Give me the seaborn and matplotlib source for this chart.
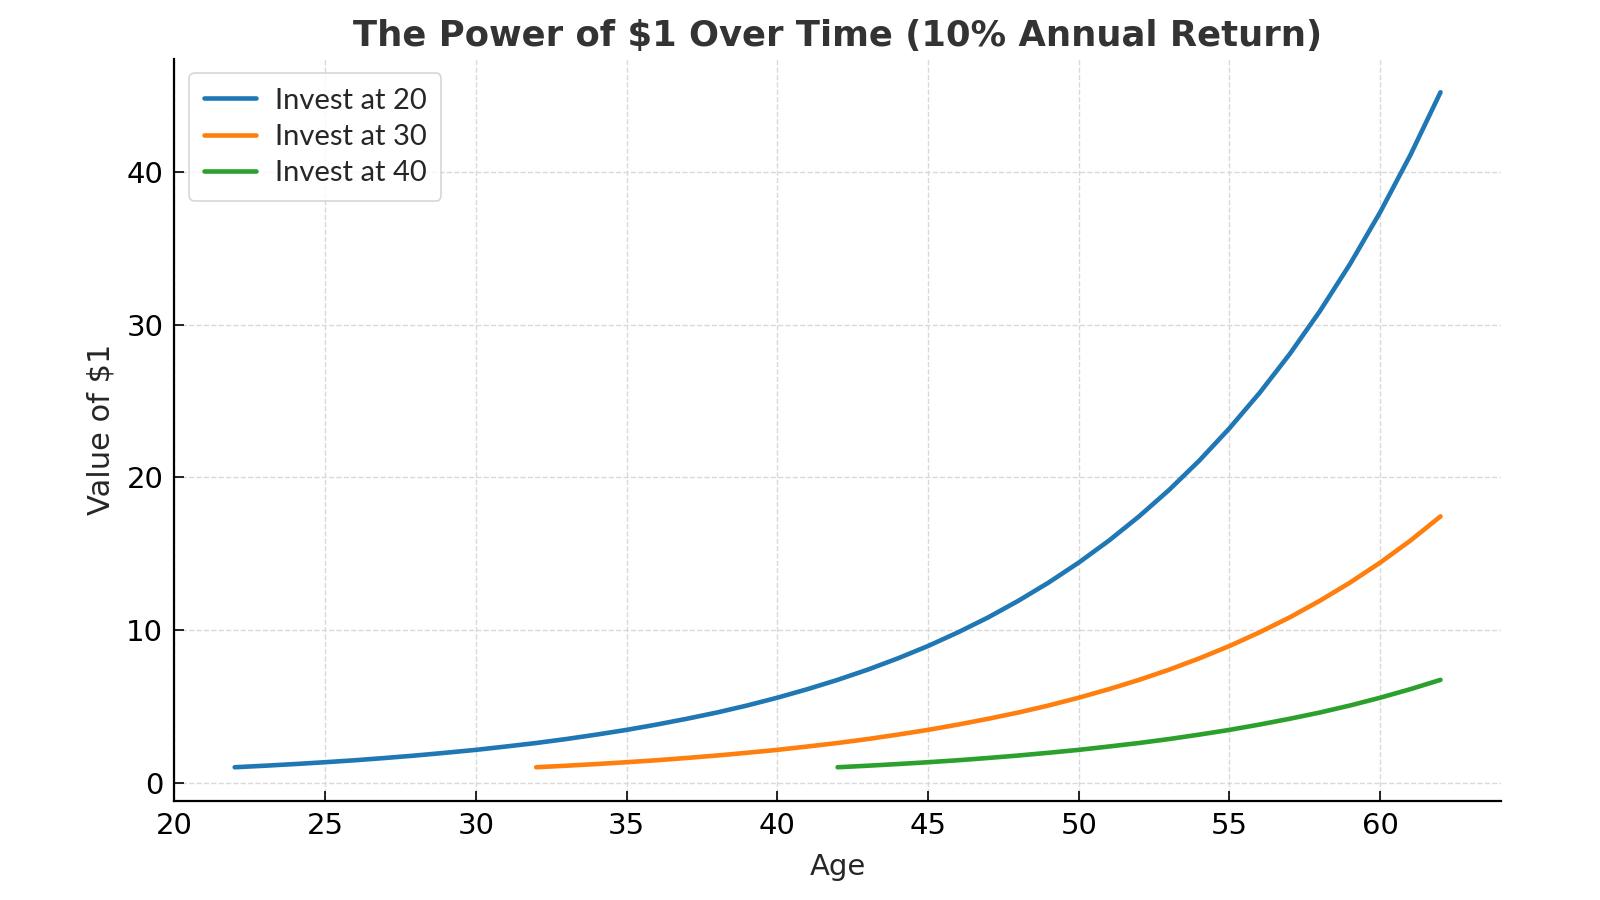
import matplotlib
matplotlib.use("Agg")
import matplotlib.pyplot as plt
import seaborn as sns
import pandas as pd

ages_20 = list(range(22, 63))
values_20 = [1.00, 1.10, 1.21, 1.33, 1.46, 1.61, 1.77, 1.95, 2.14, 2.36,
             2.59, 2.85, 3.14, 3.45, 3.80, 4.18, 4.59, 5.05, 5.56, 6.12,
             6.73, 7.40, 8.14, 8.95, 9.85, 10.83, 11.92, 13.11, 14.42, 15.86,
             17.45, 19.19, 21.11, 23.23, 25.55, 28.10, 30.91, 34.00, 37.40, 41.14,
             45.26]
ages_30 = list(range(32, 63))
values_30 = [1.00, 1.10, 1.21, 1.33, 1.46, 1.61, 1.77, 1.95, 2.14, 2.36,
             2.59, 2.85, 3.14, 3.45, 3.80, 4.18, 4.59, 5.05, 5.56, 6.12,
             6.73, 7.40, 8.14, 8.95, 9.85, 10.83, 11.92, 13.11, 14.42, 15.86,
             17.45]
ages_40 = list(range(42, 63))
values_40 = [1.00, 1.10, 1.21, 1.33, 1.46, 1.61, 1.77, 1.95, 2.14, 2.36,
             2.59, 2.85, 3.14, 3.45, 3.80, 4.18, 4.59, 5.05, 5.56, 6.12,
             6.73]
series_names = ["Invest at 20", "Invest at 30", "Invest at 40"]

df = pd.concat([
    pd.DataFrame({"Age": ages_20, "Value": values_20, "Series": series_names[0]}),
    pd.DataFrame({"Age": ages_30, "Value": values_30, "Series": series_names[1]}),
    pd.DataFrame({"Age": ages_40, "Value": values_40, "Series": series_names[2]}),
])

sns.set_style("ticks")
plt.rcParams["font.family"] = ["DejaVu Sans"]

fig = plt.figure(figsize=(16, 9), dpi=100)
ax = fig.add_axes([0.109, 0.110, 0.829, 0.825])

palette = ["#1f77b4", "#ff7f0e", "#2ca02c"]
sns.lineplot(data=df, x="Age", y="Value", hue="Series", palette=palette,
             linewidth=3.3, ax=ax, legend=True)

ax.grid(True, linestyle="--", color="#d9d9d9", linewidth=1)
ax.set_axisbelow(True)
for s in ["top", "right"]:
    ax.spines[s].set_visible(False)
for s in ["left", "bottom"]:
    ax.spines[s].set_linewidth(1.6)
    ax.spines[s].set_color("black")

ax.set_xticks([20, 25, 30, 35, 40, 45, 50, 55, 60])
ax.set_yticks([0, 10, 20, 30, 40])
ax.tick_params(direction="in", labelsize=21, length=7, width=1.2, colors="black", pad=8)
ax.set_xlabel("Age", fontsize=21, labelpad=9)
ax.set_ylabel("Value of $1", fontsize=22, labelpad=8)
ax.set_title("The Power of $1 Over Time (10% Annual Return)", fontsize=25.5,
             fontweight="bold", color="#333333", pad=9)

leg = ax.legend(loc="upper left", frameon=True, handlelength=1.8,
                borderpad=0.5, labelspacing=0.35, handletextpad=0.65,
                prop={"family": "Lato", "size": 21})
leg.get_frame().set_edgecolor("#cccccc")
leg.get_frame().set_linewidth(1.2)
for line in leg.get_lines():
    line.set_linewidth(3.3)

fig.savefig("out.png", dpi=100)
